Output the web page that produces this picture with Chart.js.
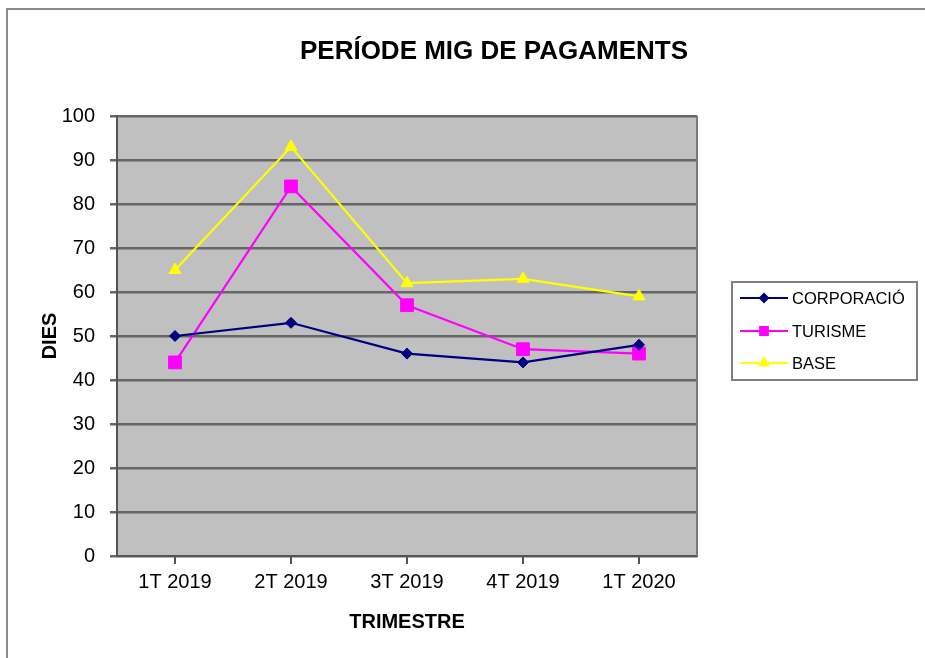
<!DOCTYPE html>
<html>
<head>
<meta charset="utf-8">
<title>PERÍODE MIG DE PAGAMENTS</title>
<script src="https://cdn.jsdelivr.net/npm/chart.js@4/dist/chart.umd.min.js"></script>
<style>
  html, body { margin: 0; padding: 0; background: #fff; }
  #wrap { width: 925px; height: 658px; }
</style>
</head>
<body>
<div id="wrap"><canvas id="pmpChart" width="925" height="658"></canvas></div>
<script>
// --- Data ---
const quarters = ['1T 2019', '2T 2019', '3T 2019', '4T 2019', '1T 2020'];
const corporacio = [50, 53, 46, 44, 48];
const turisme = [44, 84, 57, 47, 46];
const base = [65, 93, 62, 63, 59];
const yMin = 0;
const yMax = 100;
const yStep = 10;

const FONT = "'Liberation Sans', Arial, sans-serif";
Chart.defaults.font.family = FONT;
Chart.defaults.color = '#000';

const series = [
    { label: 'CORPORACIÓ', data: corporacio, color: '#000080', style: 'rectRot', radius: 5.5, legendRadius: 4 },
    { label: 'TURISME', data: turisme, color: '#ff00ff', style: 'rect', radius: 9, legendRadius: 5.5 },
    { label: 'BASE', data: base, color: '#ffff00', style: 'triangle', radius: 7, legendRadius: 5 }
];

// grey plot area, outer frame, title and the boxed legend
const decorations = {
    id: 'decorations',
    beforeDraw(chart) {
        const { ctx, chartArea: a } = chart;
        ctx.save();
        ctx.fillStyle = '#c0c0c0';
        ctx.fillRect(a.left, a.top, a.right - a.left, a.bottom - a.top);
        // outer frame of the chart object
        ctx.strokeStyle = '#8c8c8c';
        ctx.lineWidth = 2;
        ctx.beginPath();
        ctx.moveTo(7, 658);
        ctx.lineTo(7, 9);
        ctx.lineTo(925, 9);
        ctx.stroke();
        ctx.restore();
    },
    beforeDatasetsDraw(chart) {
        const { ctx, chartArea: a } = chart;
        ctx.save();
        ctx.strokeStyle = '#7a7a7a';
        ctx.lineWidth = 2;
        ctx.beginPath();
        ctx.moveTo(a.right, a.top);
        ctx.lineTo(a.right, a.bottom);
        ctx.stroke();
        ctx.restore();
    },
    afterDraw(chart) {
        const { ctx } = chart;
        ctx.save();
        // title
        ctx.fillStyle = '#000';
        ctx.font = 'bold 26px ' + FONT;
        ctx.textAlign = 'center';
        ctx.textBaseline = 'alphabetic';
        ctx.fillText('PERÍODE MIG DE PAGAMENTS', 494, 59);

        // legend box
        ctx.fillStyle = '#fff';
        ctx.fillRect(732, 282, 185, 98);
        ctx.strokeStyle = '#808080';
        ctx.lineWidth = 2;
        ctx.strokeRect(732, 282, 185, 98);

        const rowsY = [298, 331, 363];
        ctx.font = '16.5px ' + FONT;
        ctx.textAlign = 'left';
        series.forEach((s, i) => {
            const y = rowsY[i];
            ctx.strokeStyle = s.color;
            ctx.lineWidth = 2;
            ctx.beginPath();
            ctx.moveTo(740, y);
            ctx.lineTo(788, y);
            ctx.stroke();
            ctx.fillStyle = s.color;
            Chart.helpers.drawPoint(ctx, { pointStyle: s.style, radius: s.legendRadius, borderWidth: 1, rotation: 0 }, 764, y);
            ctx.fillStyle = '#000';
            ctx.textBaseline = 'middle';
            ctx.fillText(s.label, 792, y + 1);
        });
        ctx.restore();
    }
};

const ctx = document.getElementById('pmpChart').getContext('2d');
new Chart(ctx, {
    type: 'line',
    data: {
        labels: quarters,
        datasets: series.map(s => ({
            label: s.label,
            data: s.data,
            borderColor: s.color,
            backgroundColor: s.color,
            borderWidth: 2.2,
            pointStyle: s.style,
            pointRadius: s.radius,
            pointBorderWidth: 1,
            pointBackgroundColor: s.color,
            pointBorderColor: s.color,
            tension: 0
        }))
    },
    options: {
        responsive: false,
        animation: false,
        devicePixelRatio: 1,
        layout: { padding: { left: 34, top: 116, right: 228, bottom: 21 } },
        plugins: {
            legend: { display: false },
            title: { display: false },
            tooltip: { enabled: false }
        },
        scales: {
            x: {
                offset: true,
                grid: {
                    drawOnChartArea: false,
                    drawTicks: true,
                    tickLength: 8,
                    color: '#555',
                    lineWidth: 2
                },
                border: { color: '#555', width: 2 },
                ticks: { font: { size: 20 }, color: '#000', padding: 6, maxRotation: 0 },
                title: {
                    display: true,
                    text: 'TRIMESTRE',
                    font: { size: 20, weight: 'bold' },
                    color: '#000',
                    padding: { top: 15, bottom: 3 }
                },
                afterFit: scale => { scale.height = 81; }
            },
            y: {
                min: yMin,
                max: yMax,
                ticks: { stepSize: yStep, font: { size: 20 }, color: '#000', padding: 15 },
                grid: { color: '#666', lineWidth: 2.5, tickLength: 7 },
                border: { color: '#555', width: 2 },
                title: {
                    display: true,
                    text: 'DIES',
                    font: { size: 20, weight: 'bold' },
                    color: '#000',
                    padding: { top: 4, bottom: 4 }
                },
                afterFit: scale => { scale.width = 83; }
            }
        }
    },
    plugins: [decorations]
});
</script>
</body>
</html>
